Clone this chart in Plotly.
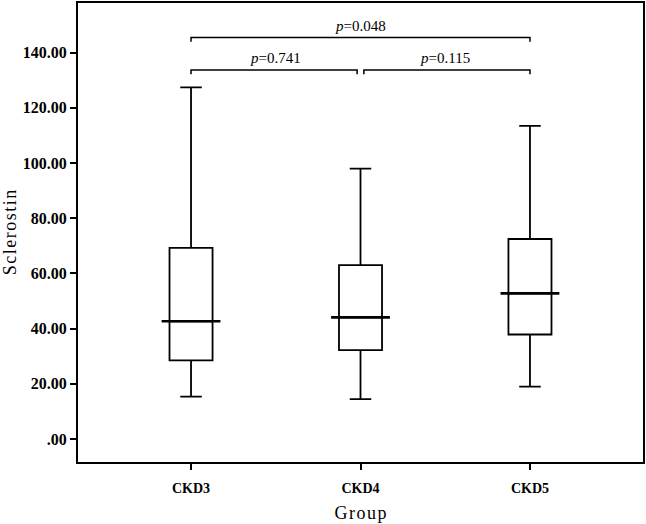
import plotly.graph_objects as go

# box summary statistics
groups = ["CKD3", "CKD4", "CKD5"]
lower = [15.4, 14.5, 19.0]
q1 = [28.5, 32.2, 37.9]
median = [42.7, 44.1, 52.8]
q3 = [69.3, 63.0, 72.5]
upper = [127.4, 98.0, 113.5]

# pairwise comparisons: (left group, right group, p-value text, bracket height)
comparisons = [
    ("CKD3", "CKD4", "0.741", 133.7),
    ("CKD4", "CKD5", "0.115", 133.7),
    ("CKD3", "CKD5", "0.048", 145.5),
]

y_ticks = [0, 20, 40, 60, 80, 100, 120, 140]
y_ticktext = [".00", "20.00", "40.00", "60.00", "80.00", "100.00", "120.00", "140.00"]

serif = "Liberation Serif, Times New Roman, serif"
pos = list(range(len(groups)))

fig = go.Figure()
fig.add_trace(go.Box(
    x=pos,
    q1=q1, median=median, q3=q3,
    lowerfence=lower, upperfence=upper,
    fillcolor="white",
    line=dict(color="black", width=1.8),
    width=0.254,
    whiskerwidth=0.5,
    boxpoints=False,
    showlegend=False,
    hoverinfo="skip",
))
# heavier median line, as in SPSS output
fig.add_trace(go.Scatter(
    x=pos, y=median, mode="markers",
    marker=dict(symbol="line-ew", size=42, line=dict(color="black", width=2.6)),
    showlegend=False, hoverinfo="skip",
))

# significance brackets
idx = {g: i for i, g in enumerate(groups)}
for a, b, p, h in comparisons:
    x0, x1 = idx[a], idx[b]
    # leave a small gap where adjacent brackets meet
    if x1 - x0 == 1:
        x0 = x0 + (0.02 if x0 > 0 else 0)
        x1 = x1 - (0.02 if x1 < len(groups) - 1 else 0)
    leg = 1.5
    fig.add_trace(go.Scatter(
        x=[x0, x0, x1, x1], y=[h - leg, h, h, h - leg],
        mode="lines", line=dict(color="black", width=1.5),
        showlegend=False, hoverinfo="skip",
    ))
    fig.add_annotation(
        x=(idx[a] + idx[b]) / 2, y=h, yshift=12,
        text="<i>p</i>=" + p, showarrow=False,
        font=dict(family=serif, size=15, color="black"),
    )

hs = "\u200a"
fig.update_layout(
    width=646, height=524,
    margin=dict(l=78, r=3, t=3, b=62),
    paper_bgcolor="white", plot_bgcolor="white",
    font=dict(family=serif, color="black"),
)
fig.update_xaxes(
    range=[-0.667, 2.667],
    tickvals=pos, ticktext=groups,
    tickfont=dict(family=serif, size=14, weight="bold"),
    ticks="outside", ticklen=6, tickwidth=2, tickcolor="black",
    ticklabelstandoff=6,
    showline=True, linecolor="black", linewidth=2, mirror=True,
    showgrid=False, zeroline=False, automargin=False,
    title=dict(text=hs.join("Group"), font=dict(family=serif, size=18), standoff=12),
)
fig.update_yaxes(
    range=[-8.3, 158],
    tickvals=y_ticks, ticktext=y_ticktext,
    tickfont=dict(family=serif, size=16, weight="bold"),
    ticks="outside", ticklen=6, tickwidth=2, tickcolor="black",
    showline=True, linecolor="black", linewidth=2, mirror=True,
    showgrid=False, zeroline=False, automargin=False,
    title=dict(text=hs.join("Sclerostin"), font=dict(family=serif, size=18), standoff=8),
)

fig.write_html(
    "out.html",
    config={"displayModeBar": False},
    post_script="document.body.style.margin='0px';",
)
